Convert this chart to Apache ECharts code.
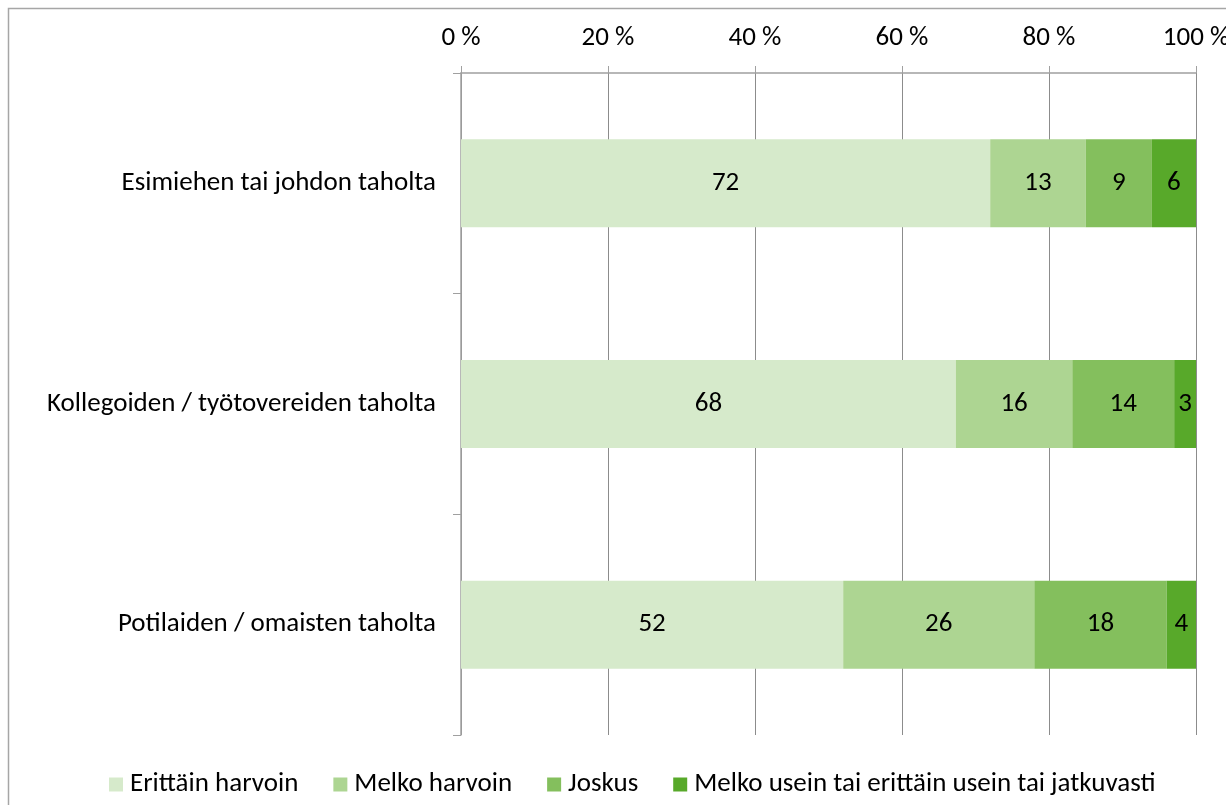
<!DOCTYPE html>
<html>
<head>
    <meta charset="utf-8">
    <title>ECharts</title>
    <script src="https://cdn.jsdelivr.net/npm/echarts@6/dist/echarts.min.js"></script>
    <style>
      html, body { margin: 0; padding: 0; background: #fff; }
    </style>
</head>
<body>
    <div id="main" style="width: 1226px;height:805px;"></div>
    <script type="text/javascript">
    // kategoriat ylhäältä alas
    var categories = ['Esimiehen tai johdon taholta', 'Kollegoiden / työtovereiden taholta', 'Potilaiden / omaisten taholta'];
    var seriesNames = ['Erittäin harvoin', 'Melko harvoin', 'Joskus', 'Melko usein tai erittäin usein tai jatkuvasti'];
    var erittainHarvoin = [72, 68, 52];
    var melkoHarvoin = [13, 16, 26];
    var joskus = [9, 14, 18];
    var melkoUsein = [6, 3, 4];
    var tickLabels = ['0 %', '20 %', '40 %', '60 %', '80 %', '100 %'];

    var colors = ['#d6eacb', '#add592', '#84bf5d', '#58a92a'];
    var font = "Carlito, 'Liberation Sans Narrow', 'Open Sans', sans-serif";
    var fs = 27;

    var chart = echarts.init(document.getElementById('main'));
    var raw = [erittainHarvoin, melkoHarvoin, joskus, melkoUsein];

    // 100 % pinottu: jokainen rivi skaalataan summaansa
    var sums = categories.map(function (c, i) {
      return raw.reduce(function (s, arr) { return s + arr[i]; }, 0);
    });

    var series = raw.map(function (arr, k) {
      return {
        name: seriesNames[k],
        type: 'bar',
        stack: 'total',
        barWidth: 88,
        itemStyle: { color: colors[k] },
        label: {
          show: true,
          position: 'inside',
          color: '#000',
          fontSize: fs,
          fontFamily: font,
          formatter: function (p) { return arr[p.dataIndex]; }
        },
        data: arr.map(function (v, i) { return v / sums[i] * 100; })
      };
    });

    var option = {
        backgroundColor: '#fff',
        animation: false,
        graphic: [{
          type: 'rect',
          shape: { x: 8.5, y: 8.5, width: 1400, height: 1000 },
          style: { fill: 'none', stroke: '#a6a6a6', lineWidth: 1.5 },
          silent: true
        }],
        grid: { left: 461, right: 30, top: 73, bottom: 70, outerBoundsMode: 'none', containLabel: false },
        legend: {
            top: 766,
            left: 104,
            itemWidth: 14,
            itemHeight: 14,
            itemGap: 35,
            icon: 'rect',
            textStyle: { fontSize: fs, color: '#000', fontFamily: font, padding: [0, 0, 0, 2] },
            data: seriesNames
        },
        xAxis: {
            type: 'value',
            position: 'top',
            min: 0,
            max: 100,
            interval: 20,
            axisLine: { show: true, lineStyle: { color: '#a0a0a0', width: 1.5 } },
            axisTick: { show: true, length: 7, lineStyle: { color: '#a0a0a0' } },
            splitLine: { show: true, lineStyle: { color: '#8c8c8c', width: 1 } },
            axisLabel: {
              margin: 21,
              fontSize: fs,
              color: '#000',
              fontFamily: font,
              formatter: function (v) { return tickLabels[v / 20]; }
            }
        },
        yAxis: {
            type: 'category',
            inverse: true,
            data: categories,
            axisLine: { show: true, lineStyle: { color: '#a0a0a0', width: 1.5 } },
            axisTick: { show: true, length: 8, lineStyle: { color: '#a0a0a0' } },
            axisLabel: { margin: 25, fontSize: fs, color: '#000', fontFamily: font }
        },
        series: series
    };

    chart.setOption(option);
    </script>
</body>
</html>
